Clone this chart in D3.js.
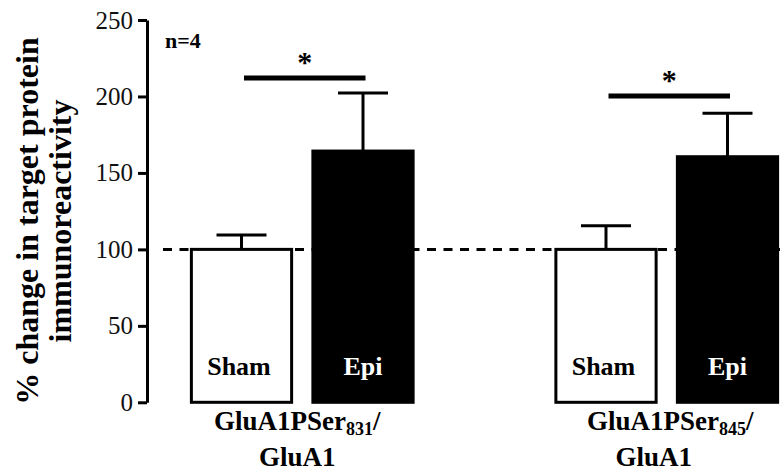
<!DOCTYPE html>
<html>
<head>
<meta charset="utf-8">
<script src="https://cdn.jsdelivr.net/npm/d3@7/dist/d3.min.js"></script>
<style>
  html, body { margin: 0; padding: 0; background: #fff; }
  svg { display: block; }
</style>
</head>
<body>
<svg id="chart" width="780" height="471" font-family="'Liberation Serif', 'Times New Roman', Times, serif"></svg>
<script>
// Protein ratios (% of sham), mean and SEM per group
const categories = ["GluA1PSer831/GluA1", "GluA1PSer845/GluA1"];
const labelMain = ["GluA1PSer", "GluA1PSer"];
const labelSub = ["831", "845"];
const labelLine2 = ["GluA1", "GluA1"];
const groups = ["Sham", "Epi"];
const shamMeans = [100, 100];
const epiMeans = [164.3, 160.6];
const shamSem = [9.4, 15.5];
const epiSem = [38.0, 28.4];
const sigLevels = [212, 200.3];
const yTicks = [0, 50, 100, 150, 200, 250];
const sampleNote = "n=4";

const FONT = "'Liberation Serif', 'Times New Roman', Times, serif";
const svg = d3.select("#chart");
const W = 780, H = 471;

const y = d3.scaleLinear().domain([0, 250]).range([402.3, 20]);

// five slots: two bars, a spacer, two bars
const slots = ["0-Sham", "0-Epi", "gap", "1-Sham", "1-Epi"];
const x = d3.scaleBand().domain(slots).range([180.75, 788.25])
  .paddingInner(0.175).paddingOuter(0.0875);
const cx = k => x(k) + x.bandwidth() / 2;

const axisX = 147;

const bars = [];
categories.forEach((c, i) => {
  bars.push({ key: i + "-Sham", group: "Sham", mean: shamMeans[i], sem: shamSem[i] });
  bars.push({ key: i + "-Epi", group: "Epi", mean: epiMeans[i], sem: epiSem[i] });
});

// reference line at 100 %
svg.append("line")
  .attr("x1", axisX + 16).attr("x2", W)
  .attr("y1", y(100)).attr("y2", y(100))
  .attr("stroke", "#000").attr("stroke-width", 3)
  .attr("stroke-dasharray", "9,7.5");

// error bars (upper half only)
const eb = svg.append("g").attr("stroke", "#000").attr("stroke-width", 3);
bars.forEach(b => {
  eb.append("line").attr("x1", cx(b.key)).attr("x2", cx(b.key))
    .attr("y1", y(b.mean)).attr("y2", y(b.mean + b.sem));
  eb.append("line").attr("x1", cx(b.key) - 25).attr("x2", cx(b.key) + 25)
    .attr("y1", y(b.mean + b.sem)).attr("y2", y(b.mean + b.sem));
});

// bars
svg.append("g").selectAll("rect").data(bars).join("rect")
  .attr("x", d => x(d.key))
  .attr("width", x.bandwidth())
  .attr("y", d => y(d.mean))
  .attr("height", d => y(0) - y(d.mean))
  .attr("fill", d => d.group === "Sham" ? "#fff" : "#000")
  .attr("stroke", "#000").attr("stroke-width", 3);

// group names inside bars
svg.append("g").selectAll("text").data(bars).join("text")
  .attr("font-family", FONT)
  .attr("x", d => cx(d.key) - (d.group === "Sham" ? 2.5 : 0))
  .attr("y", 375)
  .attr("text-anchor", "middle")
  .attr("font-size", 26).attr("font-weight", "bold")
  .attr("fill", d => d.group === "Sham" ? "#000" : "#fff")
  .text(d => d.group);

// significance bars and asterisks
categories.forEach((c, i) => {
  const x1 = cx(i + "-Sham") + 2.5, x2 = cx(i + "-Epi") + 2.5;
  svg.append("line").attr("x1", x1).attr("x2", x2)
    .attr("y1", y(sigLevels[i])).attr("y2", y(sigLevels[i]))
    .attr("stroke", "#000").attr("stroke-width", 5);
  svg.append("text").attr("font-family", FONT)
    .attr("x", (x1 + x2) / 2).attr("y", y(sigLevels[i]) - 6)
    .attr("text-anchor", "middle").attr("font-size", 30).attr("font-weight", "bold")
    .text("*");
});

// y axis
const yAxis = d3.axisLeft(y).tickValues(yTicks).tickSize(9).tickSizeOuter(0).tickPadding(5);
const ga = svg.append("g").attr("transform", `translate(${axisX},0)`).call(yAxis)
  .attr("font-family", FONT).attr("font-size", 25);
ga.select(".domain").attr("stroke", "#000").attr("stroke-width", 3);
ga.selectAll(".tick line").attr("stroke", "#000").attr("stroke-width", 3);
ga.selectAll(".tick text").attr("fill", "#111");

// y title
const title = svg.append("text").attr("font-family", FONT)
  .attr("transform", "translate(38,221) rotate(-90)")
  .attr("text-anchor", "middle").attr("font-size", 32).attr("font-weight", "bold");
title.append("tspan").attr("x", 0).attr("y", 0).text("% change in target protein");
title.append("tspan").attr("x", 0).attr("y", 33).text("immunoreactivity");

// sample size note
svg.append("text").attr("font-family", FONT).attr("x", 165).attr("y", 48)
  .attr("font-size", 22).attr("font-weight", "bold").text(sampleNote);

// category labels
categories.forEach((c, i) => {
  const mid = (cx(i + "-Sham") + cx(i + "-Epi")) / 2;
  const t1 = svg.append("text").attr("font-family", FONT)
    .attr("x", mid - (i === 0 ? 5 : -3.5)).attr("y", 430)
    .attr("text-anchor", "middle").attr("font-size", 27).attr("font-weight", "bold");
  t1.append("tspan").text(labelMain[i]);
  t1.append("tspan").attr("font-size", 18).attr("dy", 5).text(labelSub[i]);
  t1.append("tspan").attr("dy", -5).text("/");
  svg.append("text").attr("font-family", FONT)
    .attr("x", mid - (i === 0 ? 5 : 13)).attr("y", 466)
    .attr("text-anchor", "middle").attr("font-size", 27).attr("font-weight", "bold")
    .text(labelLine2[i]);
});
</script>
</body>
</html>
